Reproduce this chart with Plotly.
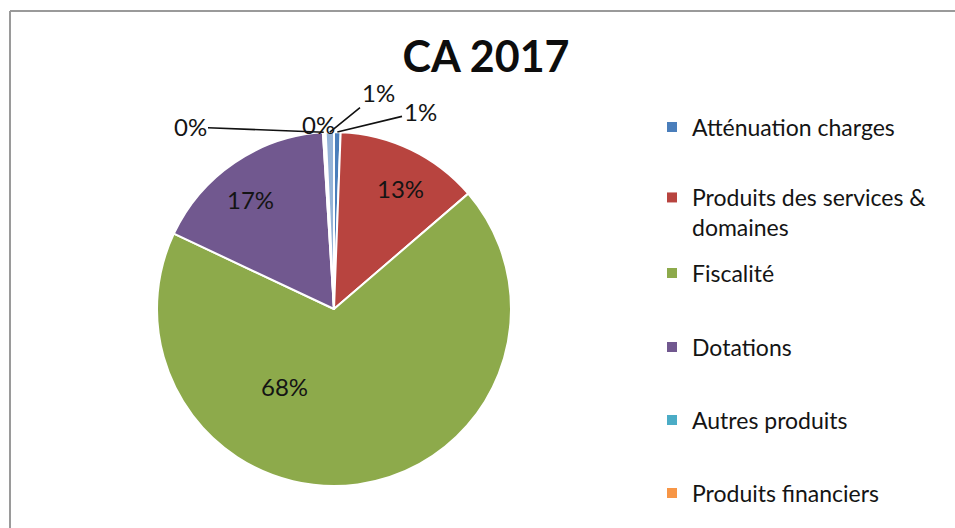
import numpy as np
import plotly.graph_objects as go

# ---- data ----
categories = ["Atténuation charges", "Produits des services & domaines", "Fiscalité",
              "Dotations", "Autres produits", "Produits financiers", "Produits exceptionnels"]
values = [0.6, 13.1, 68.3, 17.0, 0.15, 0.1, 0.75]
colors = ["#4A7EBB", "#B8443F", "#8DAA4B", "#71588F", "#4BACC6", "#F79646", "#95B3D7"]
legend_labels = ["Atténuation charges", "Produits des services &<br>domaines", "Fiscalité",
                 "Dotations", "Autres produits", "Produits financiers"]

W, H = 955, 528
FONT = "Lato"
TXT = "#141414"

# pie geometry (pixels)
cx, cy, r = 334, 309, 177
dom_x = [(cx - r) / W, (cx + r) / W]
dom_y = [1 - (cy + r) / H, 1 - (cy - r) / H]

total = sum(values)
pct = [v / total for v in values]

fig = go.Figure()
fig.add_trace(go.Pie(
    labels=categories, values=values, sort=False, direction="clockwise", rotation=0,
    marker=dict(colors=colors, line=dict(color="white", width=2)),
    textinfo="none",
    domain=dict(x=dom_x, y=dom_y), showlegend=False, hoverinfo="label+percent",
))

# legend via dummy traces, one legend per entry for Excel-like spacing
leg_y = [127, 200, 273, 347, 420, 493]
for i, lab in enumerate(legend_labels):
    lname = "legend" if i == 0 else f"legend{i+1}"
    fig.add_trace(go.Scatter(x=[None], y=[None], mode="markers", name=lab,
                             marker=dict(symbol="square", size=10, color=colors[i]),
                             showlegend=True, legend=lname, hoverinfo="skip"))
    multiline = "<br>" in lab
    fig.layout[lname] = dict(
        x=652 / W, xanchor="left",
        y=1 - (leg_y[i] - 24) / H if multiline else 1 - leg_y[i] / H,
        yanchor="top" if multiline else "middle",
        valign="top",
        font=dict(family=FONT, size=23, color=TXT),
        bgcolor="rgba(0,0,0,0)", borderwidth=0,
    )

# data labels: inside ones placed like the original, small slices outside with leader lines
cum = np.cumsum([0] + pct)
mid = [(cum[i] + cum[i + 1]) / 2 * 2 * np.pi for i in range(len(pct))]
inside_pos = {1: (400, 188), 2: (284, 386), 3: (250, 199)}
outside_pos = {0: (420, 112), 6: (378, 93), 5: (318, 124), 4: (190, 127)}
annotations = []
for i, (tx, ty) in inside_pos.items():
    annotations.append(dict(
        x=tx / W, y=1 - ty / H, xref="paper", yref="paper", showarrow=False,
        xanchor="center", yanchor="middle",
        text=f"{round(pct[i]*100)}%", font=dict(family=FONT, size=24, color=TXT),
    ))
for i, (tx, ty) in outside_pos.items():
    hx = cx + r * np.sin(mid[i])
    hy = cy - r * np.cos(mid[i])
    annotations.append(dict(
        x=hx / W, y=1 - hy / H, xref="paper", yref="paper",
        text=f"{round(pct[i]*100)}%", showarrow=True, arrowhead=0, arrowwidth=1.6,
        arrowcolor="#111", ax=tx - hx, ay=ty - hy, standoff=0,
        font=dict(family=FONT, size=24, color=TXT),
    ))

shapes = [
    dict(type="line", xref="paper", yref="paper", x0=10 / W, x1=1, y0=1 - 11 / H, y1=1 - 11 / H,
         line=dict(color="#9a9a9a", width=2)),
    dict(type="line", xref="paper", yref="paper", x0=10 / W, x1=10 / W, y0=0, y1=1 - 11 / H,
         line=dict(color="#9a9a9a", width=2)),
]

fig.update_layout(
    width=W, height=H, margin=dict(l=0, r=0, t=0, b=0),
    paper_bgcolor="white", plot_bgcolor="white",
    showlegend=True,
    title=dict(text="<b>CA 2017</b>", x=486 / W, xanchor="center", y=1 - 57 / H, yanchor="middle",
               yref="container", font=dict(family=FONT, size=43, color="#0d0d0d")),
    xaxis=dict(visible=False), yaxis=dict(visible=False),
    annotations=annotations, shapes=shapes,
)

fig.write_html("out.html")
